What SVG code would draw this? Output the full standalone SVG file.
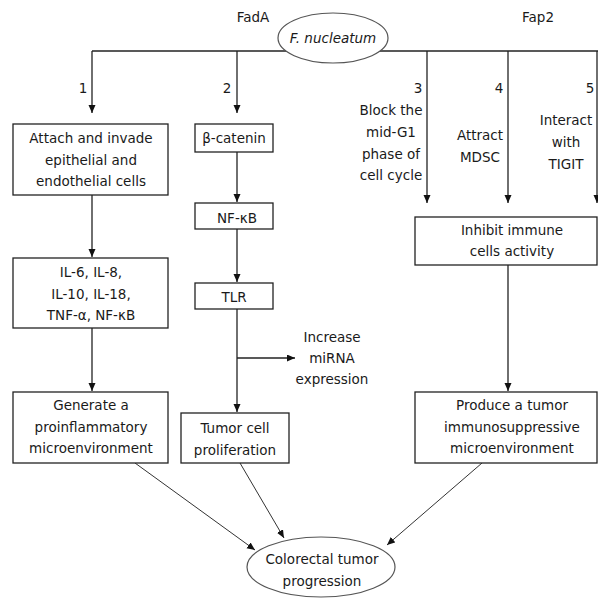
<svg xmlns="http://www.w3.org/2000/svg" width="598" height="599" viewBox="0 0 598 599">
<defs>
<marker id="ah" markerUnits="userSpaceOnUse" markerWidth="9" markerHeight="8" refX="8" refY="3.5" orient="auto">
<path d="M0,0 L8,3.5 L0,7 z" fill="#111"/>
</marker>
<style>
text{font-family:"DejaVu Sans","Verdana",sans-serif;font-size:13.5px;fill:#1a1a1a;text-anchor:middle}
.box{fill:#fff;stroke:#222;stroke-width:1.3}
.ell{fill:#fff;stroke:#555;stroke-width:1.2}
.ln{fill:none;stroke:#222;stroke-width:1.3}
.dg{fill:none;stroke:#333;stroke-width:1}
.ar{marker-end:url(#ah)}
</style>
</defs>
<g id="connectors">
<polyline class="ln" points="92,51 598,51"/>
<line class="ln ar" x1="92" y1="51" x2="92" y2="113"/>
<line class="ln ar" x1="237" y1="51" x2="237" y2="113"/>
<line class="ln ar" x1="427" y1="51" x2="427" y2="203"/>
<line class="ln ar" x1="508" y1="51" x2="508" y2="203"/>
<line class="ln ar" x1="597" y1="51" x2="597" y2="203"/>
<line class="ln ar" x1="92" y1="195" x2="92" y2="257"/>
<line class="ln ar" x1="92" y1="328" x2="92" y2="391"/>
<line class="ln ar" x1="237" y1="152" x2="237" y2="202"/>
<line class="ln ar" x1="237" y1="229" x2="237" y2="282"/>
<line class="ln ar" x1="237" y1="309" x2="237" y2="412"/>
<line class="ln ar" x1="237" y1="358" x2="295" y2="358"/>
<line class="ln ar" x1="508" y1="265" x2="508" y2="391"/>
<line class="dg ar" x1="135" y1="463" x2="255" y2="550"/>
<line class="dg ar" x1="240" y1="463" x2="284" y2="538"/>
<line class="dg ar" x1="482" y1="463" x2="387" y2="545"/>
</g>
<g id="labels">
<text x="253" y="22">FadA</text>
<text x="538" y="22">Fap2</text>
<text x="83" y="93">1</text>
<text x="227" y="93">2</text>
<text x="418" y="93">3</text>
<text x="499" y="93">4</text>
<text x="590" y="93">5</text>
<text x="391" y="115">Block the</text>
<text x="391" y="137">mid-G1</text>
<text x="391" y="159">phase of</text>
<text x="391" y="180">cell cycle</text>
<text x="480" y="140">Attract</text>
<text x="480" y="162">MDSC</text>
<text x="566" y="125">Interact</text>
<text x="566" y="147">with</text>
<text x="566" y="169">TIGIT</text>
<text x="332" y="342">Increase</text>
<text x="332" y="363">miRNA</text>
<text x="332" y="384">expression</text>
</g>
<g id="fnucleatum">
<ellipse class="ell" cx="333" cy="38" rx="55" ry="25"/>
<text x="333" y="43" font-style="italic">F. nucleatum</text>
</g>
<g id="attach">
<rect class="box" x="13" y="124" width="155" height="71"/>
<text x="91" y="143">Attach and invade</text>
<text x="91" y="165">epithelial and</text>
<text x="91" y="186">endothelial cells</text>
</g>
<g id="betacatenin">
<rect class="box" x="195" y="124" width="78" height="28"/>
<text x="234" y="143">β-catenin</text>
</g>
<g id="il">
<rect class="box" x="13" y="258" width="155" height="70"/>
<text x="91" y="277">IL-6, IL-8,</text>
<text x="91" y="299">IL-10, IL-18,</text>
<text x="91" y="320">TNF-α, NF-κB</text>
</g>
<g id="nfkb">
<rect class="box" x="195" y="203" width="78" height="26"/>
<text x="237" y="223">NF-κB</text>
</g>
<g id="tlr">
<rect class="box" x="195" y="283" width="78" height="26"/>
<text x="234" y="302">TLR</text>
</g>
<g id="inhibit">
<rect class="box" x="415" y="217" width="182" height="48"/>
<text x="512" y="235">Inhibit immune</text>
<text x="512" y="256">cells activity</text>
</g>
<g id="generate">
<rect class="box" x="13" y="392" width="155" height="71"/>
<text x="91" y="410">Generate a</text>
<text x="91" y="432">proinflammatory</text>
<text x="91" y="453">microenvironment</text>
</g>
<g id="tumorcell">
<rect class="box" x="181" y="413" width="108" height="50"/>
<text x="235" y="433">Tumor cell</text>
<text x="235" y="455">proliferation</text>
</g>
<g id="produce">
<rect class="box" x="415" y="392" width="182" height="71"/>
<text x="512" y="410">Produce a tumor</text>
<text x="512" y="432">immunosuppressive</text>
<text x="512" y="453">microenvironment</text>
</g>
<g id="colorectal">
<ellipse class="ell" cx="321" cy="567" rx="74" ry="30"/>
<text x="322" y="564">Colorectal tumor</text>
<text x="322" y="586">progression</text>
</g>
</svg>
